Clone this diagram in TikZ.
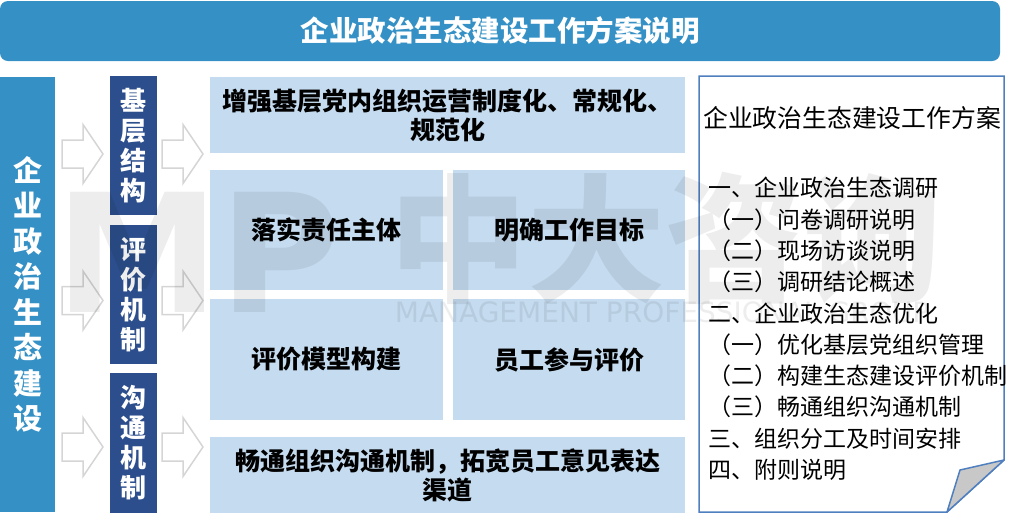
\documentclass[tikz,border=0pt]{standalone}
\usepackage{fontspec}
\setmainfont{Noto Sans CJK SC}
\newfontfamily\latinfont{DejaVu Sans}
\definecolor{titleblue}{HTML}{3591C5}
\definecolor{navyblue}{HTML}{2C4E8C}
\definecolor{lightblue}{HTML}{C5DBEF}
\definecolor{panelblue}{HTML}{4F7FBF}
\definecolor{arrowgray}{HTML}{D5D5D5}
\definecolor{foldgray}{HTML}{C8C8C8}
\tikzset{
  bluebar/.style={fill=titleblue,text=white,inner sep=0pt,align=center},
  navybox/.style={fill=navyblue,text=white,inner sep=0pt,minimum width=47pt,align=center,
    font=\bfseries\fontsize{26}{30}\selectfont},
  lightbox/.style={fill=lightblue,inner sep=0pt,align=center,
    font=\bfseries\fontsize{25}{29}\selectfont},
  hollowarrow/.style={draw=arrowgray,fill=white,line width=1.5pt,line join=miter},
  panel/.style={draw=panelblue,fill=white,line width=1.5pt},
  fold/.style={draw=panelblue,fill=foldgray,line width=1.5pt,line join=round},
  paneltext/.style={inner sep=0pt,font=\fontsize{23}{28}\selectfont},
  watermark/.style={inner sep=0pt,text=black,text opacity=0.07}
}
\begin{document}
\begin{tikzpicture}[x=1pt,y=-1pt]
\useasboundingbox (0,0) rectangle (1020,515);

% Title bar
\node[bluebar,rounded corners=8pt,minimum width=1000pt,minimum height=60pt,
  font=\bfseries\fontsize{28.5}{30}\selectfont] (title) at (500,31) {企业政治生态建设工作方案说明};

% Left bar
\node[bluebar,minimum width=55pt,minimum height=435pt,
  font=\bfseries\fontsize{29}{35.5}\selectfont] (leftbar) at (27.5,294.5) {企\\业\\政\\治\\生\\态\\建\\设};

% Hollow arrows
\foreach \ax in {62,162}
  \foreach \ay in {154,300.5,447}
    \draw[hollowarrow] (\ax,\ay-14) -- ++(21,0) -- ++(0,-15.5) -- (\ax+41,\ay)
      -- (\ax+21,\ay+29.5) -- ++(0,-15.5) -- (\ax,\ay+14) -- cycle;

% Navy boxes
\node[navybox,minimum height=139pt] (jiceng) at (133.5,145.5) {基\\层\\结\\构};
\node[navybox,minimum height=139pt] (pingjia) at (133.5,294.5) {评\\价\\机\\制};
\node[navybox,minimum height=140pt] (goutong) at (133.5,443) {沟\\通\\机\\制};

% Light boxes
\node[lightbox,minimum width=475pt,minimum height=76pt] (zhidu) at (447.5,115) {增强基层党内组织运营制度化、常规化、\\规范化};
\node[lightbox,minimum width=233pt,minimum height=120pt] (zeren) at (326.5,230) {落实责任主体};
\node[lightbox,minimum width=232pt,minimum height=120pt] (mubiao) at (569,230) {明确工作目标};
\node[lightbox,minimum width=233pt,minimum height=121pt] (moxing) at (326.5,359.5) {评价模型构建};
\node[lightbox,minimum width=232pt,minimum height=121pt] (canyu) at (569,359.5) {员工参与评价};
\node[lightbox,minimum width=475pt,minimum height=76pt] (qudao) at (447.5,475) {畅通组织沟通机制，拓宽员工意见表达\\渠道};

% Document panel with folded corner
\draw[panel] (699,76) -- (1004,76) -- (1004,460) -- (947,512) -- (699,512) -- cycle;
\draw[fold] (1004,460) -- (960,470) -- (947,512) -- cycle;
\node[paneltext,font=\fontsize{24.8}{28}\selectfont] (plantitle) at (852,118) {企业政治生态建设工作方案};
\foreach \t [count=\i] in {一、企业政治生态调研,（一）问卷调研说明,（二）现场访谈说明,（三）调研结论概述,
  二、企业政治生态优化,（一）优化基层党组织管理,（二）构建生态建设评价机制,（三）畅通组织沟通机制,
  三、组织分工及时间安排,四、附则说明}
  \node[paneltext,anchor=west] (item\i) at (708,188+31.3*\i-31.3) {\t};

% Watermark
\node[watermark,font=\latinfont\bfseries\fontsize{165}{165}\selectfont] (wmlogo) at (198,252) {MP};
\node[watermark,font=\bfseries\fontsize{138}{138}\selectfont] (wmname) at (665,238) {中大咨询};
\node[watermark,font=\latinfont\fontsize{28}{28}\selectfont] (wmgroup) at (662,312) {MANAGEMENT PROFESSIONAL GROUP};

\end{tikzpicture}
\end{document}
